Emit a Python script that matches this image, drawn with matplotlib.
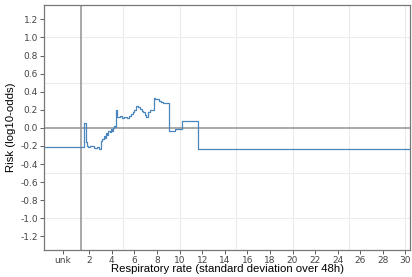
import matplotlib
matplotlib.use('Agg')
from matplotlib import pyplot as plt

# step-function risk curve (x = breakpoints, y = value from that breakpoint on)
resp_x = [-2.0, 1.56, 1.73, 1.8, 1.9, 2.1, 2.4, 2.7, 2.9, 3.0, 3.15, 3.3, 3.4, 3.5, 3.6, 3.7,
          3.8, 3.9, 4.0, 4.1, 4.2, 4.3, 4.4, 4.5, 4.7, 4.9, 5.1, 5.3, 5.5, 5.7, 5.85, 6.0,
          6.1, 6.3, 6.5, 6.65, 6.8, 6.95, 7.05, 7.2, 7.35, 7.5, 7.7, 7.85, 8.2, 8.35, 8.55,
          9.1, 9.6, 10.2, 11.6, 30.4]
risk = [-0.215, 0.055, -0.16, -0.2, -0.21, -0.2, -0.22, -0.21, -0.23, -0.14, -0.12, -0.09,
        -0.11, -0.06, -0.08, -0.03, -0.05, -0.01, -0.03, 0.0, 0.02, 0.01, 0.2, 0.12, 0.13,
        0.11, 0.12, 0.11, 0.13, 0.15, 0.18, 0.2, 0.24, 0.23, 0.21, 0.19, 0.17, 0.14, 0.12,
        0.18, 0.2, 0.2, 0.33, 0.32, 0.3, 0.29, 0.28, -0.03, -0.01, 0.08, -0.23, -0.23]

unk_pos = -0.35
unk_sep = 1.3
x_ticks = list(range(2, 31, 2))
y_ticks = [-1.2, -1.0, -0.8, -0.6, -0.4, -0.2, 0.0, 0.2, 0.4, 0.6, 0.8, 1.0, 1.2]

plt.rcParams['font.family'] = ['DejaVu Sans']
plt.rcParams['axes.unicode_minus'] = False

fig = plt.figure(figsize=(4.12, 2.77), dpi=100)
ax = fig.add_axes([0.107, 0.0975, 0.888, 0.885])

ax.step(resp_x, risk, where='post', color='#4a86bd', linewidth=0.9)

ax.axhline(0, color='#999999', linewidth=1.2, zorder=1)
ax.axvline(unk_sep, color='#999999', linewidth=1.2, zorder=1)

# light grid every 5 / 0.5
for gx in [5, 10, 15, 20, 25, 30]:
    ax.axvline(gx, color='#ececec', linewidth=0.8, zorder=0)
for gy in [-1.0, -0.5, 0.5, 1.0]:
    ax.axhline(gy, color='#ececec', linewidth=0.8, zorder=0)

ax.set_xlim(-2.0, 30.4)
ax.set_ylim(-1.35, 1.36)

ax.set_xticks([unk_pos] + x_ticks)
ax.set_xticklabels(['unk'] + [str(t) for t in x_ticks])
ax.set_yticks(y_ticks)
ax.set_yticklabels(['%.1f' % t for t in y_ticks])
ax.tick_params(labelsize=6.5, colors='#444444', length=3, width=0.6, pad=1.5)

for s in ax.spines.values():
    s.set_color('#777777')
    s.set_linewidth(0.9)

ax.set_xlabel('Respiratory rate (standard deviation over 48h)', fontsize=8.2,
              family='Liberation Sans', labelpad=-1)
ax.set_ylabel('Risk (log10-odds)', fontsize=8.2, family='Liberation Sans', labelpad=3)

plt.savefig('out.png', dpi=100)
